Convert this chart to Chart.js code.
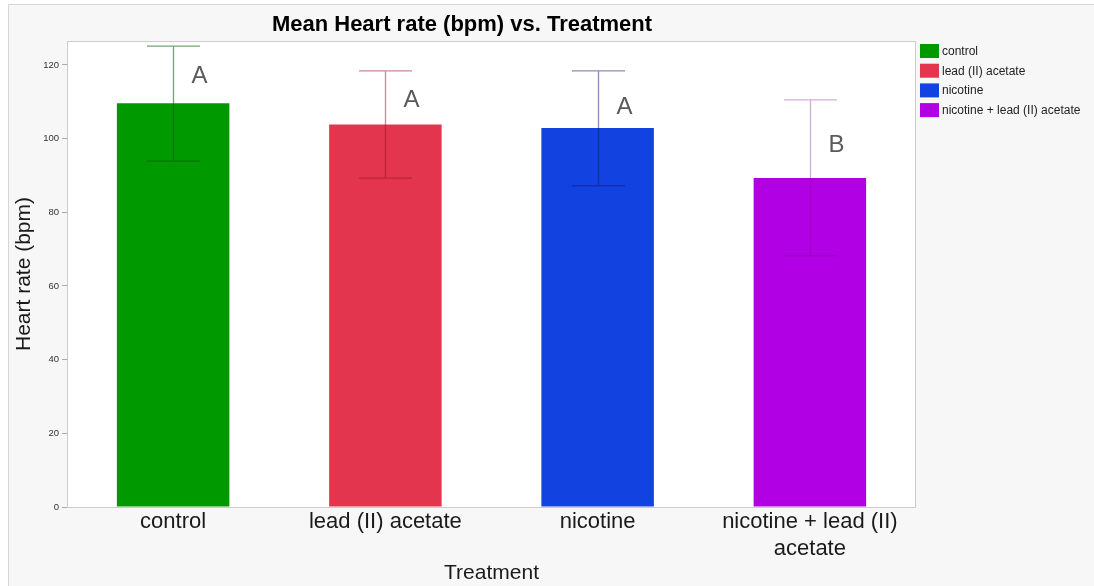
<!DOCTYPE html>
<html><head><meta charset="utf-8">
<script src="https://cdn.jsdelivr.net/npm/chart.js@4.4.0/dist/chart.umd.min.js"></script>
<style>html,body{margin:0;padding:0;background:#fff;}#wrap{width:1094px;height:586px;position:relative;}</style>
</head><body><div id="wrap"><canvas id="c" width="1094" height="586"></canvas></div>
<script>
const categories = ['control', 'lead (II) acetate', 'nicotine', 'nicotine + lead (II) acetate'];
const tickLabels = ['control', 'lead (II) acetate', 'nicotine', ['nicotine + lead (II)', 'acetate']];
const meanValues = [109.6, 103.8, 102.9, 89.3];
const errLow = [93.9, 89.3, 87.2, 68.2];
const errHigh = [125.1, 118.4, 118.4, 110.5];
const groupLetters = ['A', 'A', 'A', 'B'];
const letterY = [116.8, 110.5, 108.6, 98.3];
const barColors = ['#009a00', '#e3354e', '#1243e0', '#b200e4'];
const errColors = ['rgba(0,90,0,0.55)', 'rgba(150,20,40,0.5)', 'rgba(20,30,120,0.5)', 'rgba(120,0,140,0.33)'];
const yTicks = [0, 20, 40, 60, 80, 100, 120];

const bgPlugin = {
  id: 'bg',
  beforeDraw(chart) {
    const ctx = chart.ctx, a = chart.chartArea;
    ctx.save();
    ctx.fillStyle = '#ffffff'; ctx.fillRect(0, 0, chart.width, chart.height);
    ctx.fillStyle = '#f7f7f7'; ctx.fillRect(8, 5, chart.width - 8, chart.height - 5);
    ctx.strokeStyle = '#d6d6d6'; ctx.lineWidth = 1;
    ctx.beginPath(); ctx.moveTo(8.5, chart.height); ctx.lineTo(8.5, 4.5); ctx.lineTo(chart.width, 4.5); ctx.stroke();
    ctx.fillStyle = '#ffffff'; ctx.fillRect(a.left, a.top, a.right - a.left, a.bottom - a.top);
    ctx.restore();
  },
  afterDraw(chart) {
    const ctx = chart.ctx, a = chart.chartArea;
    ctx.save();
    ctx.strokeStyle = '#cccccc'; ctx.lineWidth = 1;
    ctx.strokeRect(a.left + 0.5, a.top + 0.5, a.right - a.left - 1, a.bottom - a.top);
    // title
    ctx.fillStyle = '#000';
    ctx.font = 'bold 22px "Liberation Sans", Arial, sans-serif';
    ctx.textAlign = 'center'; ctx.textBaseline = 'middle';
    ctx.fillText('Mean Heart rate (bpm) vs. Treatment', 462, 25);
    // legend
    ctx.font = '12px "Liberation Sans", Arial, sans-serif';
    ctx.textAlign = 'left';
    categories.forEach((c, i) => {
      const y = 44 + i * 19.7;
      ctx.fillStyle = barColors[i];
      ctx.fillRect(920, y, 19, 14);
      ctx.fillStyle = '#222';
      ctx.fillText(c, 942, y + 7.5);
    });
    ctx.restore();
  },
  afterDatasetsDraw(chart) {
    const ctx = chart.ctx, xs = chart.scales.x, ys = chart.scales.y;
    ctx.save();
    meanValues.forEach((v, i) => {
      const x = Math.round(xs.getPixelForValue(i)) + 0.5;
      const yl = ys.getPixelForValue(errLow[i]);
      const yh = ys.getPixelForValue(errHigh[i]);
      ctx.strokeStyle = errColors[i]; ctx.lineWidth = 1.3;
      ctx.beginPath();
      ctx.moveTo(x, yl); ctx.lineTo(x, yh);
      ctx.moveTo(x - 26.5, yh); ctx.lineTo(x + 26.5, yh);
      ctx.moveTo(x - 26.5, yl); ctx.lineTo(x + 26.5, yl);
      ctx.stroke();
      ctx.fillStyle = '#5a5a5a';
      ctx.font = '24px "Liberation Sans", Arial, sans-serif';
      ctx.textAlign = 'center'; ctx.textBaseline = 'middle';
      ctx.fillText(groupLetters[i], x + 26, ys.getPixelForValue(letterY[i]));
    });
    ctx.restore();
  }
};

new Chart(document.getElementById('c'), {
  type: 'bar',
  data: {
    labels: tickLabels,
    datasets: [{
      data: meanValues,
      backgroundColor: barColors,
      borderWidth: 0,
      categoryPercentage: 1,
      barPercentage: 0.53
    }]
  },
  options: {
    responsive: false,
    animation: false,
    layout: { padding: { top: 41, right: 178, left: 0, bottom: 0 } },
    plugins: { legend: { display: false }, title: { display: false }, tooltip: { enabled: false } },
    scales: {
      x: {
        grid: { display: false, drawTicks: false },
        border: { display: false },
        ticks: { color: '#1a1a1a', padding: 2, font: { family: '"Liberation Sans", Arial, sans-serif', size: 22, lineHeight: 1.2 }, maxRotation: 0, autoSkip: false },
        title: { display: true, text: 'Treatment', color: '#1a1a1a', padding: 0, font: { family: '"Liberation Sans", Arial, sans-serif', size: 21, lineHeight: 1.2 } },
        afterFit(s) { s.height = 79; }
      },
      y: {
        min: 0, max: 126.5,
        afterBuildTicks(s) { s.ticks = yTicks.map(v => ({ value: v })); },
        grid: { drawOnChartArea: false, drawTicks: true, tickLength: 5, color: '#aaaaaa' },
        border: { display: true, color: '#cccccc' },
        ticks: { color: '#333', padding: 3, font: { family: '"Liberation Sans", Arial, sans-serif', size: 9.5 } },
        title: { display: true, text: 'Heart rate (bpm)', color: '#1a1a1a', padding: { top: 12, bottom: 0 }, font: { family: '"Liberation Sans", Arial, sans-serif', size: 21, lineHeight: 1.2 } },
        afterFit(s) { s.width = 67; }
      }
    }
  },
  plugins: [bgPlugin]
});
</script></body></html>
